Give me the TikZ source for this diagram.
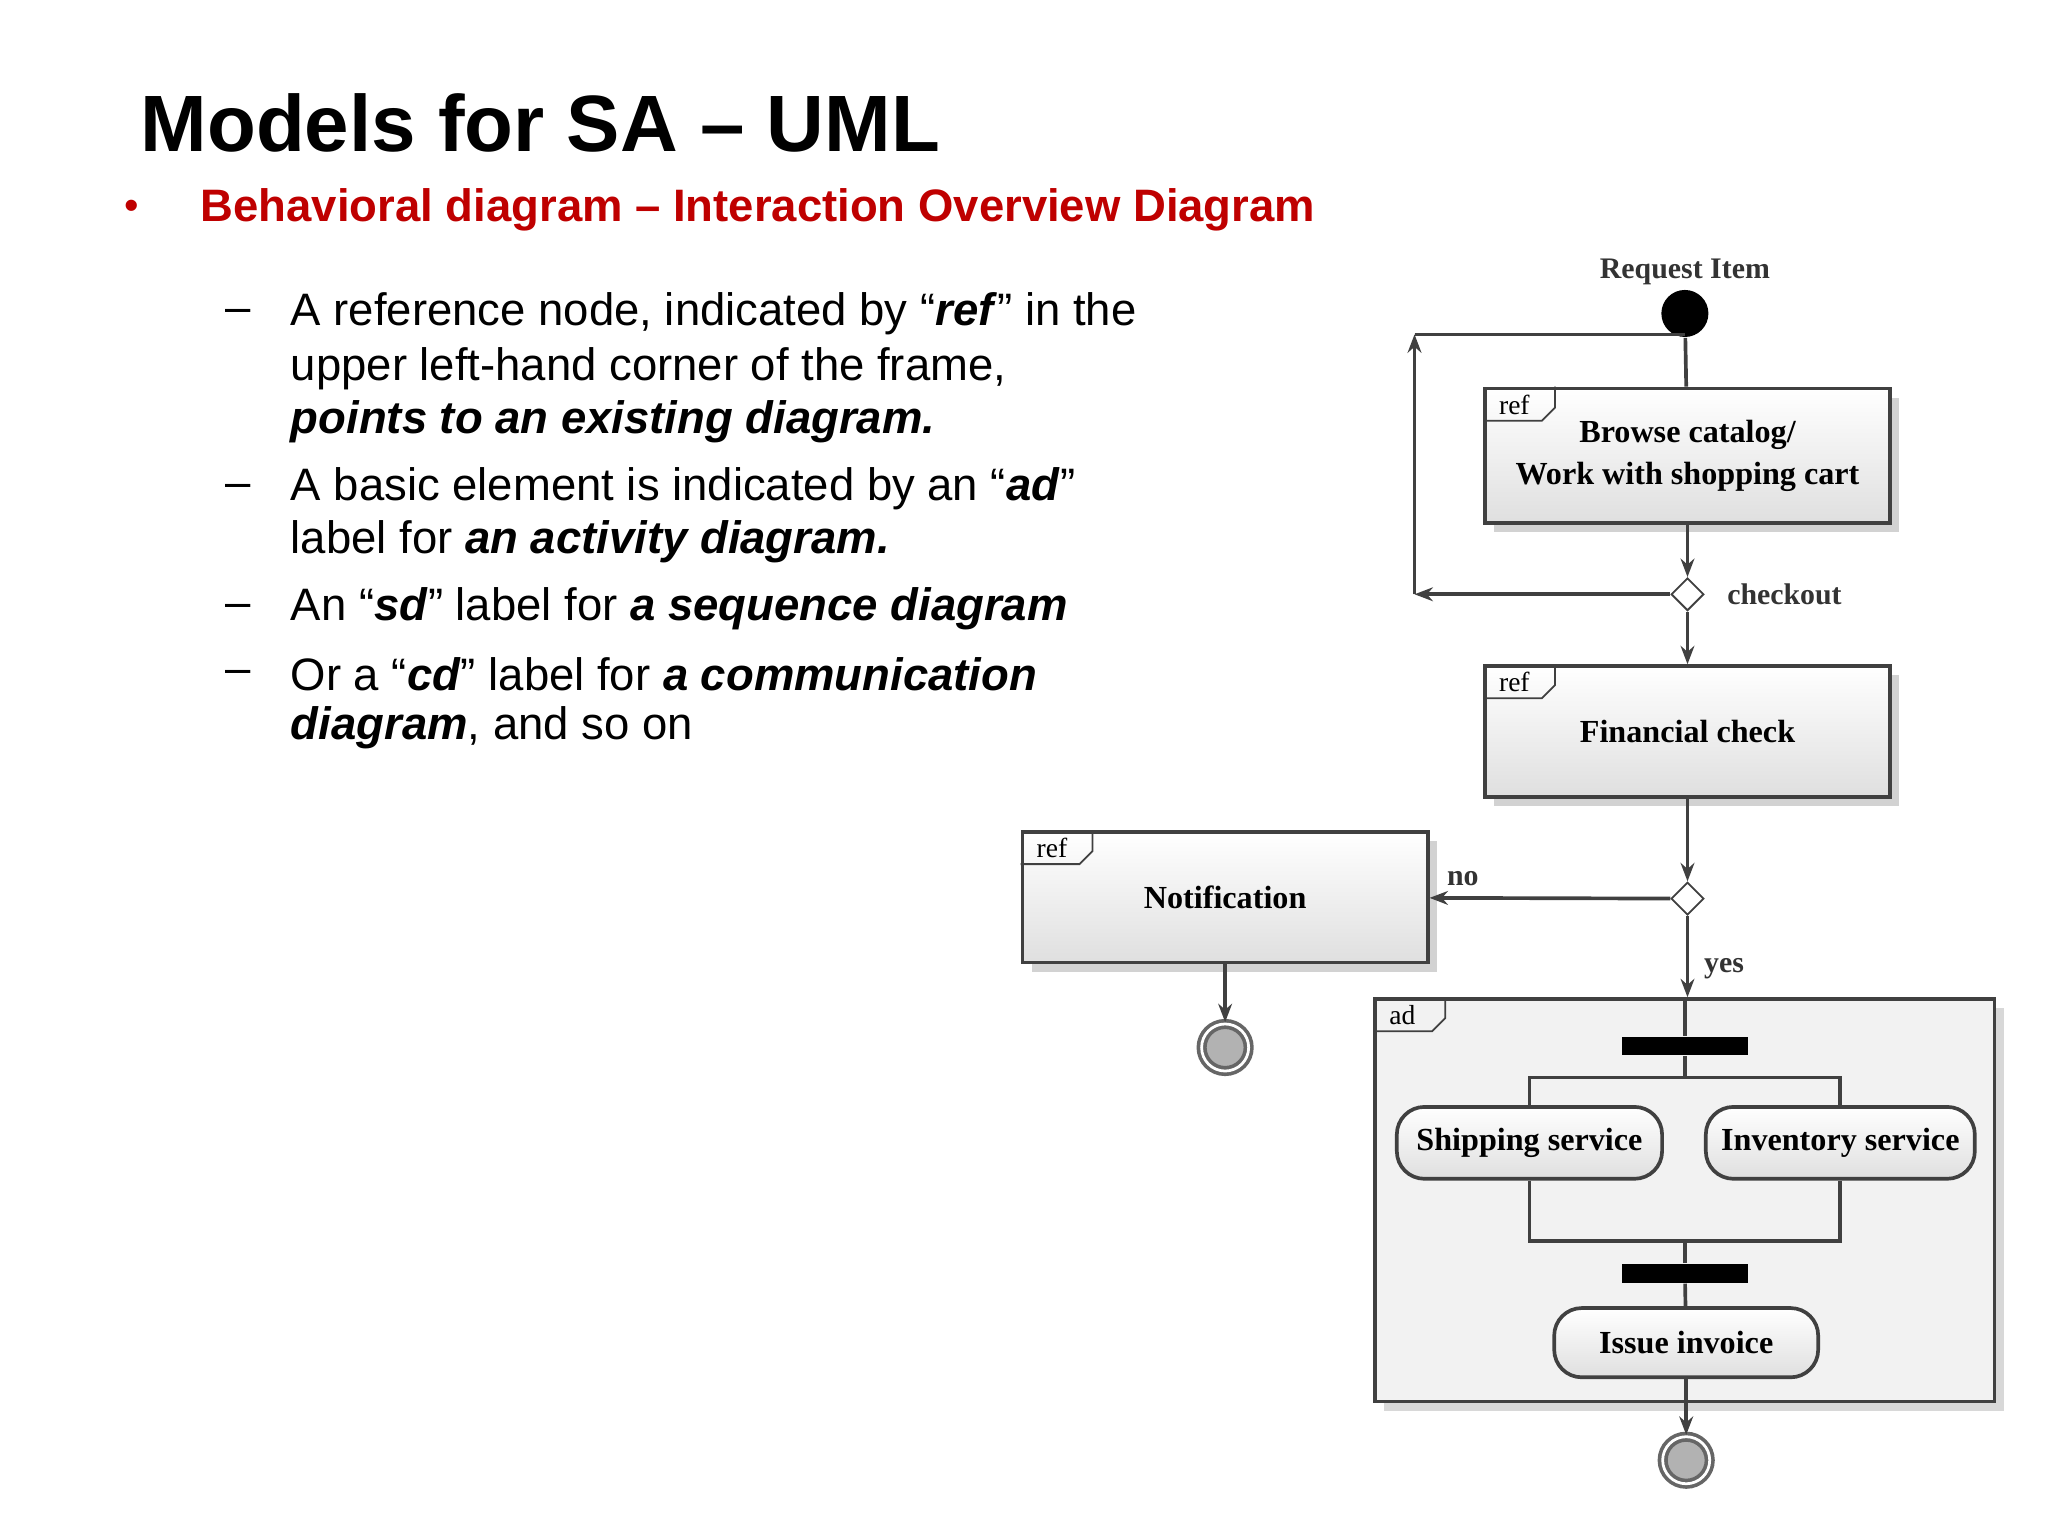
\documentclass[tikz,border=0pt]{standalone}
\usepackage{fontspec}
\setmainfont{Liberation Sans}
\newfontfamily\dgm{Liberation Serif}
\usetikzlibrary{shadows,arrows.meta,shapes.geometric}
\tikzset{
  box/.style={draw=black!75, thick, top color=white, bottom color=gray!25,
    drop shadow={opacity=0.35, shadow xshift=2pt, shadow yshift=-2pt},
    minimum width=3.1cm, minimum height=1.02cm, align=center,
    font=\dgm\bfseries\fontsize{7}{9}\selectfont},
  act/.style={draw=black!75, thick, rounded corners=6pt, top color=white, bottom color=gray!25,
    minimum width=2.03cm, minimum height=0.55cm, font=\dgm\bfseries\fontsize{7}{8}\selectfont},
  bar/.style={fill=black, minimum width=0.96cm, minimum height=0.14cm, inner sep=0pt},
  dec/.style={draw=black!75, fill=white, diamond, minimum size=0.25cm, inner sep=0pt},
  lbl/.style={font=\dgm\bfseries\fontsize{6.5}{8}\selectfont, text=black!80},
  flow/.style={thick, black!75},
  arr/.style={flow, -{Stealth[length=4pt,width=3pt]}},
  tag/.style={font=\dgm\fontsize{6}{7}\selectfont, anchor=north west, inner sep=1pt},
  txt/.style={anchor=west, font=\fontsize{9.9}{12}\selectfont, inner sep=0pt},
}
\newcommand\frametag[2]{%
  \draw[black!75] ([yshift=-0.26cm]#1.north west) -- ++(45,0) -- ++(10,-10) -- ++(0,-16);
  \node[tag] at ([xshift=0.08cm,yshift=-0.02cm]#1.north west) {#2};}
\begin{document}
\begin{tikzpicture}[x=0.01cm, y=-0.01cm]
\useasboundingbox[fill=white] (0,0) rectangle (1568,1176);
% slide text
\node[anchor=west, inner sep=0pt, font=\bfseries\fontsize{17.4}{20}\selectfont] (title) at (107,94) {Models for SA – UML};
\node[anchor=west, inner sep=0pt, text=red!75!black, font=\fontsize{9}{12}\selectfont] (dot) at (95,161) {•};
\node[anchor=west, inner sep=0pt, text=red!75!black, font=\bfseries\fontsize{9.9}{12}\selectfont] (sub) at (153,161) {Behavioral diagram – Interaction Overview Diagram};
\node[txt] (d1) at (172,242) {–};
\node[txt] (t1) at (222,240) {A reference node, indicated by “\textbf{\textit{ref}}” in the};
\node[txt] (t2) at (222,282) {upper left-hand corner of the frame,};
\node[txt] (t3) at (222,323) {\textbf{\textit{points to an existing diagram.}}};
\node[txt] (d2) at (172,376) {–};
\node[txt] (t4) at (222,374) {A basic element is indicated by an “\textbf{\textit{ad}}”};
\node[txt] (t5) at (222,415) {label for \textbf{\textit{an activity diagram.}}};
\node[txt] (d3) at (172,468) {–};
\node[txt] (t6) at (222,466) {An “\textbf{\textit{sd}}” label for \textbf{\textit{a sequence diagram}}};
\node[txt] (d4) at (172,518) {–};
\node[txt] (t7) at (222,516) {Or a “\textbf{\textit{cd}}” label for \textbf{\textit{a communication}}};
\node[txt] (t8) at (222,557) {\textbf{\textit{diagram}}, and so on};
% diagram
\node[lbl] (req) at (1290,208) {Request Item};
\node[circle, fill=black, minimum size=0.36cm, inner sep=0pt] (start) at (1290,240) {};
\node[box, minimum height=1.03cm] (browse) at (1292,349) {Browse catalog/\\Work with shopping cart};
\frametag{browse}{ref}
\node[dec] (d1x) at (1292,455) {};
\node[lbl, anchor=west] (chk) at (1310,455) {checkout};
\node[box, minimum height=1.0cm] (fin) at (1292,560) {Financial check};
\frametag{fin}{ref}
\node[dec] (d2x) at (1292,688) {};
\node[box, minimum height=1.0cm] (notif) at (938,687) {Notification};
\frametag{notif}{ref}
\node[lbl] (no) at (1120,673) {no};
\node[lbl] (yes) at (1320,742) {yes};
\node[circle, draw=black!60, thick, fill=gray!60, minimum size=0.36cm, inner sep=0pt, double=white, double distance=0.6pt] (end1) at (938,802) {};
\node[draw=black!75, thick, fill=gray!10, minimum width=4.74cm, minimum height=3.08cm,
  drop shadow={opacity=0.3, shadow xshift=2pt, shadow yshift=-2pt}] (ad) at (1290,919) {};
\frametag{ad}{ad}
\node[bar] (fork) at (1290,801) {};
\node[act] (ship) at (1171,875) {Shipping service};
\node[act] (inv) at (1409,875) {Inventory service};
\node[bar] (join) at (1290,975) {};
\node[act, minimum width=2.02cm, minimum height=0.53cm] (issue) at (1291,1028) {Issue invoice};
\node[circle, draw=black!60, thick, fill=gray!60, minimum size=0.36cm, inner sep=0pt, double=white, double distance=0.6pt] (end2) at (1291,1118) {};
\coordinate (lb) at (1083,455);
\coordinate (lt) at (1083,256);
\coordinate (rt) at (1290,256);
% connectors
\draw[flow] (start) -- (browse);
\draw[arr] (browse) -- (d1x);
\draw[arr] (d1x) -- (fin);
\draw[arr] (d1x) -- (lb);
\draw[arr] (lb) -- (lt);
\draw[flow] (lt) -- (rt);
\draw[arr] (fin) -- (d2x);
\draw[arr] (d2x) -- (notif);
\draw[arr] (notif) -- (end1);
\draw[arr] (d2x) -- (ad.north -| d2x);
\draw[flow] (ad.north -| fork) -- (fork);
\draw[flow] (fork) -- ++(0,24) -| (ship);
\draw[flow] (fork) -- ++(0,24) -| (inv);
\draw[flow] (ship) |- (1290,950) -- (join);
\draw[flow] (inv) |- (1290,950);
\draw[flow] (join) -- (issue);
\draw[flow] (issue) -- (ad.south -| issue);
\draw[arr] (ad.south -| end2) -- (end2);
\end{tikzpicture}
\end{document}
